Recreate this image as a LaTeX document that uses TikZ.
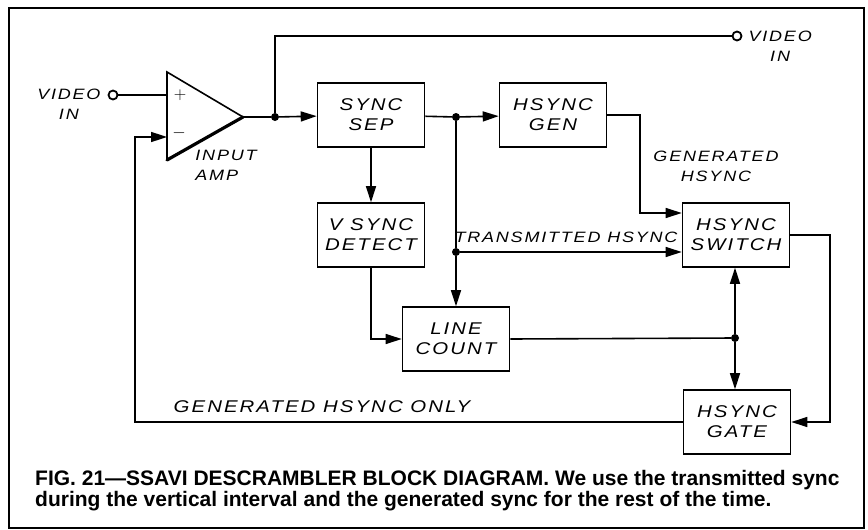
\documentclass[tikz,border=0pt]{standalone}
\usepackage{fontspec}
\usetikzlibrary{arrows.meta}
\newfontfamily\handfont[FakeStretch=1.2,LetterSpace=12]{Liberation Sans Italic}
\newfontfamily\capfont{Liberation Sans Bold}
\tikzset{
  blk/.style={draw, line width=1.6pt, minimum width=107pt, minimum height=64pt,
              align=center, font=\handfont\fontsize{17}{20}\selectfont, fill=white},
  sig/.style={line width=1.6pt, -{Triangle[length=16pt,width=10pt]}},
  wire/.style={line width=1.6pt},
  dot/.style={circle, fill, inner sep=0pt, minimum size=8pt},
  port/.style={circle, draw, line width=1.8pt, inner sep=0pt, minimum size=9pt},
  lbl/.style={align=center, font=\handfont\fontsize{15}{20}\selectfont}
}
\begin{document}
\begin{tikzpicture}[x=1pt, y=-1pt]
  \useasboundingbox (0,0) rectangle (868,530);
  \draw[line width=1.5pt] (9,8) rectangle (864,528);
  % input amp
  \coordinate (ampP) at (167,95);
  \coordinate (ampM) at (167,137);
  \coordinate (ampO) at (243,117);
  \draw[line width=1.6pt] (167,160) -- (167,72) -- (ampO);
  \draw[line width=3.2pt, line cap=round] (ampO) -- (167,160);
  \node[font=\fontsize{16}{16}\selectfont] (plus) at (180,95) {$+$};
  \node[font=\fontsize{16}{16}\selectfont] (minus) at (179,133) {$-$};
  \node[lbl, align=left] (amplbl) at (226,165) {INPUT\\AMP};
  % blocks
  \node[blk] (sep) at (371,115) {SYNC\\SEP};
  \node[blk] (gen) at (553,115) {HSYNC\\GEN};
  \node[blk] (vdet) at (371,235) {V SYNC\\DETECT};
  \node[blk] (swi) at (736,235) {HSYNC\\SWITCH};
  \node[blk] (cnt) at (456,339) {LINE\\COUNT};
  \node[blk] (gate) at (737,422) {HSYNC\\GATE};
  % ports and junctions
  \node[port] (vin) at (113,95) {};
  \node[lbl, anchor=east] (vinlbl) at (104,104) {VIDEO\\IN};
  \node[port] (vout) at (737,36) {};
  \node[lbl, anchor=west] (voutlbl) at (745,46) {VIDEO\\IN};
  \node[dot] (dA) at (275,117) {};
  \node[dot] (dB) at (456,117) {};
  \node[dot] (dC) at (456,252) {};
  \node[dot] (dD) at (735,338) {};
  \coordinate (g1) at (640,213);
  \coordinate (fb) at (135,137);
  \coordinate (r1) at (830,235);
  % connections
  \draw[wire] (vin) -- (ampP);
  \draw[wire] (ampO) -- (dA);
  \draw[sig] (dA) -- (sep);
  \draw[wire] (dA) |- (vout);
  \draw[wire] (sep) -- (dB);
  \draw[sig] (dB) -- (gen);
  \draw[sig] (gen.east) -| (g1) -- (g1 -| swi.west);
  \draw[wire] (dB) -- (dC);
  \draw[sig] (dC) -- (dC |- cnt.north);
  \draw[sig] (dC) -- (dC -| swi.west);
  \draw[sig] (sep) -- (vdet);
  \draw[sig] (vdet.south) |- (cnt.west);
  \draw[wire] (cnt.east) -- (dD);
  \draw[sig] (dD) -- (dD |- swi.south);
  \draw[sig] (dD) -- (dD |- gate.north);
  \draw[sig] (swi.east) -- (r1) |- (gate.east);
  \draw[sig] (gate.west) -| (fb) -- (ampM);
  % signal labels
  \node[lbl] (genlbl) at (716,166) {GENERATED\\HSYNC};
  \node[lbl] (trlbl) at (566,237) {TRANSMITTED HSYNC};
  \node[lbl, font=\handfont\fontsize{17}{20}\selectfont] (onlylbl) at (322,407) {GENERATED HSYNC ONLY};
  % caption
  \node[anchor=base west, align=left, inner sep=0pt,
        font=\capfont\fontsize{21}{19}\selectfont] (cap) at (35,506)
    {FIG. 21—SSAVI DESCRAMBLER BLOCK DIAGRAM. We use the transmitted sync\\
     during the vertical interval and the generated sync for the rest of the time.};
\end{tikzpicture}
\end{document}
